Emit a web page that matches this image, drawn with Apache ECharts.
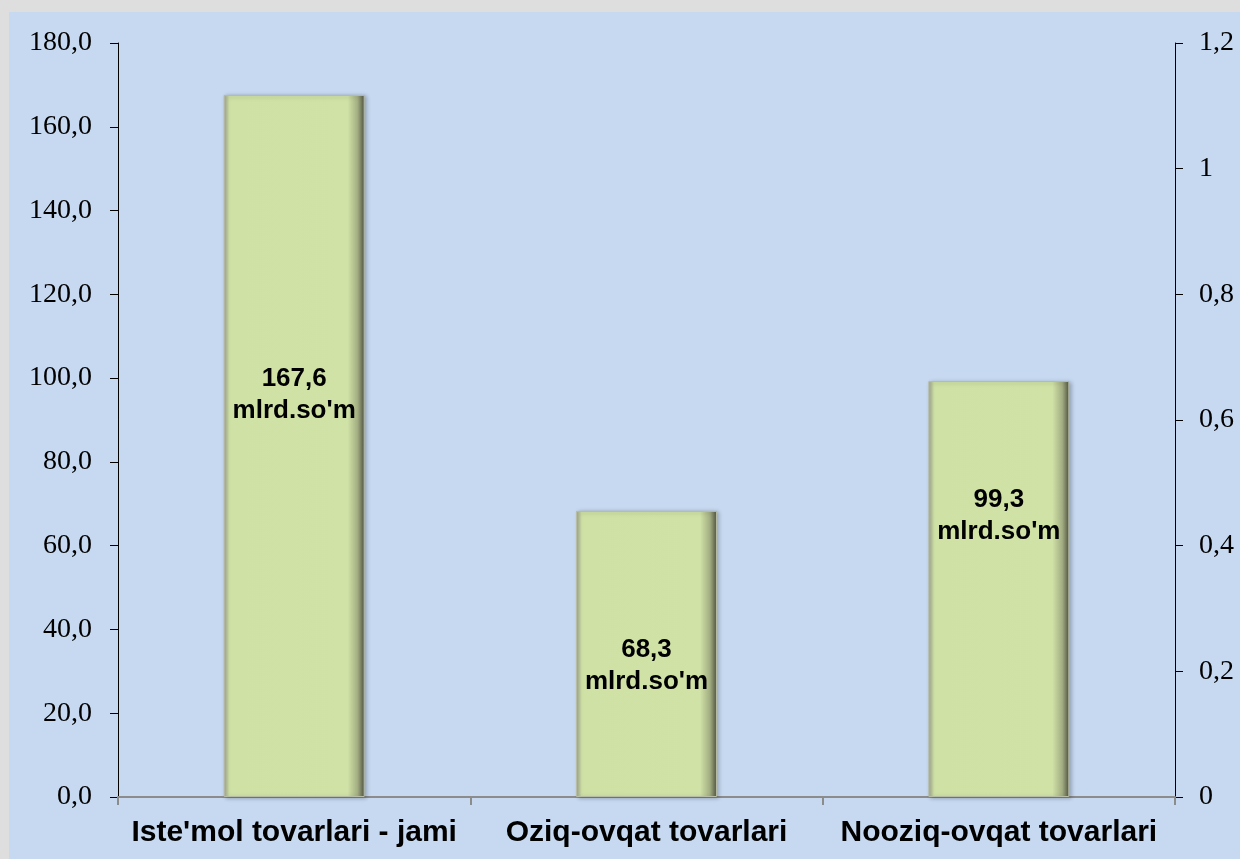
<!DOCTYPE html>
<html>
<head>
<meta charset="utf-8">
<script src="https://cdn.jsdelivr.net/npm/echarts@6/dist/echarts.min.js"></script>
<style>
    html, body { margin: 0; padding: 0; width: 1240px; height: 859px; background: #dedede; overflow: hidden; }
    #chart { position: absolute; left: 9px; top: 12px; width: 1231px; height: 847px; }
</style>
</head>
<body>
<div id="chart"></div>
<script>
const categories = ["Iste'mol tovarlari - jami", "Oziq-ovqat tovarlari", "Nooziq-ovqat tovarlari"]
const values = [167.6, 68.3, 99.3]
const unit = "mlrd.so'm"
const leftTicks = { min: 0, max: 180, interval: 20 }
const rightTicks = { min: 0, max: 1.2, interval: 0.2 }

// label offsets relative to bar centre (labels were placed by hand in the original)
const labelShift = [-51, 12, -73]

const chart = echarts.init(document.getElementById("chart"))

const barFill = new echarts.graphic.LinearGradient(0, 0, 1, 0, [
    { offset: 0, color: "#9ea28f" },
    { offset: 0.04, color: "#cfe1a5" },
    { offset: 0.88, color: "#d0e2a6" },
    { offset: 0.95, color: "#a3ad82" },
    { offset: 1, color: "#4e5240" },
])

const option = {
    backgroundColor: "#c6d9f1",
    animation: false,
    grid: { left: 109, right: 65, top: 31, bottom: 62 },
    xAxis: {
        type: "category",
        data: categories,
        boundaryGap: true,
        axisLine: { lineStyle: { color: "#8c8c8c", width: 2 } },
        axisTick: { show: true, alignWithLabel: false, length: 8, lineStyle: { color: "#8c8c8c", width: 2 } },
        axisLabel: {
            margin: 21,
            color: "#000",
            fontFamily: "Liberation Sans",
            fontWeight: "bold",
            fontSize: 30,
            interval: 0,
        },
    },
    yAxis: [
        {
            type: "value",
            min: leftTicks.min,
            max: leftTicks.max,
            interval: leftTicks.interval,
            splitLine: { show: false },
            axisLine: { show: true, lineStyle: { color: "#000", width: 1 } },
            axisTick: { show: true, length: 8, lineStyle: { color: "#000" } },
            axisLabel: {
                margin: 26,
                color: "#000",
                fontFamily: "Liberation Serif",
                fontSize: 28,
                formatter: (v) => v.toFixed(1).replace(".", ","),
            },
        },
        {
            type: "value",
            position: "right",
            min: rightTicks.min,
            max: rightTicks.max,
            interval: rightTicks.interval,
            splitLine: { show: false },
            axisLine: { show: true, lineStyle: { color: "#000", width: 1 } },
            axisTick: { show: true, length: 8, lineStyle: { color: "#000" } },
            axisLabel: {
                margin: 24,
                color: "#000",
                fontFamily: "Liberation Serif",
                fontSize: 28,
                formatter: (v) => String(Math.round(v * 10) / 10).replace(".", ","),
            },
        },
    ],
    series: [
        {
            type: "bar",
            yAxisIndex: 0,
            barWidth: "40%",
            data: values.map((v, i) => ({
                value: v,
                label: { offset: [0, labelShift[i]] },
            })),
            itemStyle: {
                color: barFill,
                borderColor: "#b7bca5",
                borderWidth: 1,
                shadowColor: "rgba(0,0,0,0.25)",
                shadowBlur: 4,
                shadowOffsetX: 2,
                shadowOffsetY: 1,
            },
            label: {
                show: true,
                position: "inside",
                color: "#000",
                fontFamily: "Liberation Sans",
                fontWeight: "bold",
                fontSize: 26,
                lineHeight: 32,
                formatter: (p) => p.value.toFixed(1).replace(".", ",") + "\n" + unit,
            },
        },
    ],
}

chart.setOption(option)
</script>
</body>
</html>
